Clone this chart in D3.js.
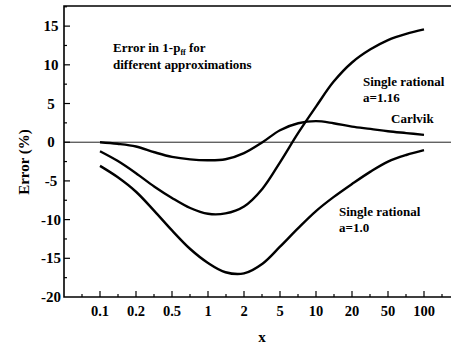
<!DOCTYPE html>
<html>
<head>
<script src="https://d3js.org/d3.v7.min.js"></script>
<style>
  body { margin: 0; background: #fff; }
  svg text { font-family: "Liberation Serif", Tinos, "Nimbus Roman", "DejaVu Serif", serif; font-weight: bold; }
</style>
</head>
<body>
<div id="chart"></div>
<script>
// x tick labels (equally spaced 1-2-5 sequence)
var xTicks = [0.1, 0.2, 0.5, 1, 2, 5, 10, 20, 50, 100];
var xEdges = [0.05, 200]; // one step beyond each end of the axis
var yTicks = [-20, -15, -10, -5, 0, 5, 10, 15];

// sample points (x in real units), roughly half a step apart on the axis
var xs = [0.1, 0.14, 0.2, 0.32, 0.5, 0.71, 1, 1.4, 2, 3.2, 5, 7.1, 10, 14, 20, 32, 50, 71, 100];
var carlvik = [0, -0.2, -0.55, -1.3, -1.9, -2.22, -2.33, -2.2, -1.4, 0.0, 1.55, 2.45, 2.72, 2.45, 2.02, 1.72, 1.42, 1.18, 0.95];
var rational116 = [-1.16, -2.4, -4.0, -5.75, -7.2, -8.5, -9.25, -9.2, -8.3, -6.0, -2.6, 1.2, 4.6, 7.8, 10.3, 12.0, 13.2, 14.0, 14.57];
var rational10 = [-3.06, -4.5, -6.4, -8.9, -11.4, -13.8, -15.6, -16.8, -16.95, -15.7, -13.5, -11.1, -8.9, -7.1, -5.4, -3.8, -2.5, -1.65, -1.03];

var W = 451, H = 345;
var margin = { left: 64, top: 6 };
var step = 36;

var svg = d3.select("#chart").append("svg")
    .attr("width", W)
    .attr("height", H);

// piecewise log scale: each 1-2-5 step gets the same width
var allTicks = [xEdges[0]].concat(xTicks, [xEdges[1]]);
var xScale = d3.scaleLinear()
    .domain(allTicks.map(function(d) { return Math.log10(d); }))
    .range(allTicks.map(function(d, i) { return margin.left + i * step; }));
function X(v) { return xScale(Math.log10(v)); }

var yScale = d3.scaleLinear()
    .domain([-20, 17.6])
    .range([297, margin.top]);

var x0 = X(xEdges[0]), x1 = X(xEdges[1]);

// zero line
svg.append("line")
    .attr("x1", x0).attr("x2", x1)
    .attr("y1", yScale(0)).attr("y2", yScale(0))
    .attr("stroke", "#222").attr("stroke-width", 1);

// frame
svg.append("path")
    .attr("d", "M" + x1 + "," + yScale(17.6) + "H" + x0 + "V" + yScale(-20) + "H" + x1)
    .attr("fill", "none").attr("stroke", "#000").attr("stroke-width", 1.6);

// y ticks (inward) with minor ticks
var yMinor = yTicks.map(function(d) { return d + 2.5; });
svg.selectAll(".ytick").data(yTicks.slice(1)).enter().append("line")
    .attr("x1", x0).attr("x2", x0 + 6)
    .attr("y1", function(d) { return yScale(d); })
    .attr("y2", function(d) { return yScale(d); })
    .attr("stroke", "#000").attr("stroke-width", 1.2);
svg.selectAll(".yminor").data(yMinor).enter().append("line")
    .attr("x1", x0).attr("x2", x0 + 3)
    .attr("y1", function(d) { return yScale(d); })
    .attr("y2", function(d) { return yScale(d); })
    .attr("stroke", "#000").attr("stroke-width", 1.2);
svg.selectAll(".ylab").data(yTicks).enter().append("text")
    .attr("x", 51)
    .attr("y", function(d) { return yScale(d); })
    .attr("dy", "0.34em")
    .attr("text-anchor", "middle")
    .style("font-size", "15px")
    .text(function(d) { return d; });

// x ticks (inward) with minor ticks halfway between
var base = yScale(-20);
svg.selectAll(".xtick").data(xTicks).enter().append("line")
    .attr("x1", function(d) { return X(d); })
    .attr("x2", function(d) { return X(d); })
    .attr("y1", base).attr("y2", base - 6)
    .attr("stroke", "#000").attr("stroke-width", 1.2);
svg.selectAll(".xminor").data(d3.range(allTicks.length - 1)).enter().append("line")
    .attr("x1", function(i) { return (X(allTicks[i]) + X(allTicks[i + 1])) / 2; })
    .attr("x2", function(i) { return (X(allTicks[i]) + X(allTicks[i + 1])) / 2; })
    .attr("y1", base).attr("y2", base - 3)
    .attr("stroke", "#000").attr("stroke-width", 1.2);
svg.selectAll(".xlab").data(xTicks).enter().append("text")
    .attr("x", function(d) { return X(d); })
    .attr("y", 316)
    .attr("text-anchor", "middle")
    .style("font-size", "14.5px")
    .text(function(d) { return d; });

// axis titles
svg.append("text")
    .attr("x", 262).attr("y", 342)
    .attr("text-anchor", "middle")
    .style("font-size", "15px")
    .text("x");
svg.append("text")
    .attr("transform", "translate(29,162) rotate(-90)")
    .attr("text-anchor", "middle")
    .style("font-size", "15px")
    .text("Error (%)");

// curves
var line = d3.line()
    .x(function(d) { return X(d[0]); })
    .y(function(d) { return yScale(d[1]); })
    .curve(d3.curveCatmullRom);
[carlvik, rational116, rational10].forEach(function(series) {
    svg.append("path")
        .datum(xs.map(function(x, i) { return [x, series[i]]; }))
        .attr("d", line)
        .attr("fill", "none")
        .attr("stroke", "#000")
        .attr("stroke-width", 2.4);
});

// annotations
var t = svg.append("text").attr("x", 113).attr("y", 52).style("font-size", "13px");
t.append("tspan").text("Error in 1-p");
t.append("tspan").attr("dy", 3).style("font-size", "8px").text("ff");
t.append("tspan").attr("dy", -3).text(" for");
svg.append("text").attr("x", 113).attr("y", 69).style("font-size", "13px")
    .text("different approximations");

svg.append("text").attr("x", 363).attr("y", 86).style("font-size", "13px").text("Single rational");
svg.append("text").attr("x", 363).attr("y", 102).style("font-size", "13px").text("a=1.16");
svg.append("text").attr("x", 391).attr("y", 123).style("font-size", "13px").text("Carlvik");
svg.append("text").attr("x", 339).attr("y", 216).style("font-size", "13px").text("Single rational");
svg.append("text").attr("x", 339).attr("y", 232).style("font-size", "13px").text("a=1.0");
</script>
</body>
</html>
